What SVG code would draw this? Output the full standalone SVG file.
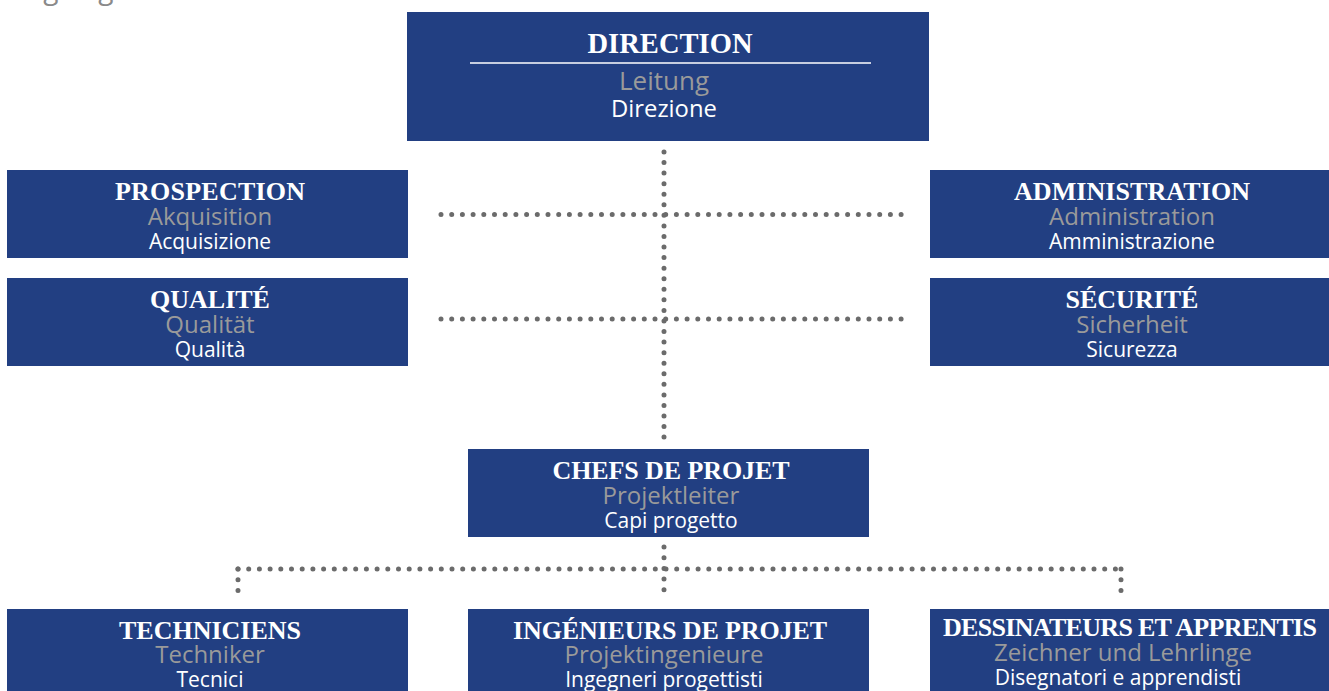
<svg xmlns="http://www.w3.org/2000/svg" width="1329" height="691" viewBox="0 0 1329 691">
<style>
.box{fill:#223f82}
.t{font-family:"Liberation Serif","DejaVu Serif",serif;font-weight:bold;fill:#fff;text-anchor:middle;font-size:26px}
.de{font-family:"Open Sans","Liberation Sans",sans-serif;fill:#9a9a9a;text-anchor:middle;font-size:24px}
.it{font-family:"Open Sans","Liberation Sans",sans-serif;fill:#fff;text-anchor:middle;font-size:21px}
.dot{fill:none;stroke:#6b6b6b;stroke-width:5;stroke-linecap:round;stroke-dasharray:0 10.7}
</style>
<rect width="1329" height="691" fill="#fff"/>
<text x="10" y="-1" font-family="'Open Sans','Liberation Sans',sans-serif" font-size="28" fill="#8a8a8a">Organigramme</text>
<g id="connectors">
<path class="dot" d="M664 152V440" style="stroke-dasharray:0 10.56"/>
<path class="dot" d="M441 214.5H903"/>
<path class="dot" d="M441 319H903"/>
<path class="dot" d="M664 547V591"/>
<path class="dot" d="M238 569H1121"/>
<path class="dot" d="M238 569V591"/>
<path class="dot" d="M1121 569V591"/>
</g>
<g id="direction">
<rect class="box" x="407" y="12" width="522" height="129"/>
<text class="t" x="670" y="53" style="font-size:28.5px" textLength="165">DIRECTION</text>
<line x1="470" y1="63" x2="871" y2="63" stroke="#fff" stroke-width="1.5"/>
<text class="de" x="664" y="90" style="font-size:26px">Leitung</text>
<text class="it" x="664" y="117" style="font-size:23.8px">Direzione</text>
</g>
<g id="prospection">
<rect class="box" x="7" y="170" width="401" height="88"/>
<text class="t" x="210" y="200" textLength="190">PROSPECTION</text>
<text class="de" x="210" y="225">Akquisition</text>
<text class="it" x="210" y="249">Acquisizione</text>
</g>
<g id="qualite">
<rect class="box" x="7" y="278" width="401" height="88"/>
<text class="t" x="210" y="308">QUALITÉ</text>
<text class="de" x="210" y="333">Qualität</text>
<text class="it" x="210" y="357">Qualità</text>
</g>
<g id="administration">
<rect class="box" x="930" y="170" width="399" height="88"/>
<text class="t" x="1132" y="200" textLength="236">ADMINISTRATION</text>
<text class="de" x="1132" y="225">Administration</text>
<text class="it" x="1132" y="249">Amministrazione</text>
</g>
<g id="securite">
<rect class="box" x="930" y="278" width="399" height="88"/>
<text class="t" x="1132" y="308">SÉCURITÉ</text>
<text class="de" x="1132" y="333">Sicherheit</text>
<text class="it" x="1132" y="357">Sicurezza</text>
</g>
<g id="chefs">
<rect class="box" x="468" y="449" width="401" height="88"/>
<text class="t" x="671" y="479" textLength="237">CHEFS DE PROJET</text>
<text class="de" x="671" y="504">Projektleiter</text>
<text class="it" x="671" y="528">Capi progetto</text>
</g>
<g id="techniciens">
<rect class="box" x="7" y="609" width="401" height="82"/>
<text class="t" x="210" y="639">TECHNICIENS</text>
<text class="de" x="210" y="663">Techniker</text>
<text class="it" x="210" y="687">Tecnici</text>
</g>
<g id="ingenieurs">
<rect class="box" x="468" y="609" width="401" height="82"/>
<text class="t" x="670" y="639" textLength="314">INGÉNIEURS DE PROJET</text>
<text class="de" x="664" y="663">Projektingenieure</text>
<text class="it" x="664" y="687">Ingegneri progettisti</text>
</g>
<g id="dessinateurs">
<rect class="box" x="930" y="609" width="399" height="82"/>
<text class="t" x="1130" y="636" textLength="374">DESSINATEURS ET APPRENTIS</text>
<text class="de" x="1123" y="661">Zeichner und Lehrlinge</text>
<text class="it" x="1118" y="685">Disegnatori e apprendisti</text>
</g>
</svg>
